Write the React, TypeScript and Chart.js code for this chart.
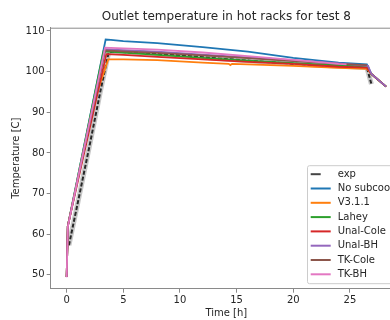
import React, { useEffect, useRef } from "react";
import { Chart, registerables } from "chart.js";

Chart.register(...registerables);

const chartTitle = "Outlet temperature in hot racks for test 8";
const xLabel = "Time [h]";
const yLabel = "Temperature [C]";

const seriesNames = ["exp", "No subcool", "V3.1.1", "Lahey", "Unal-Cole", "Unal-BH", "TK-Cole", "TK-BH"];
const seriesColors = ["#000000", "#1f77b4", "#ff7f0e", "#2ca02c", "#d62728", "#9467bd", "#8c564b", "#e377c2"];

const xTicks = [0, 5, 10, 15, 20, 25];
const yTicks = [50, 60, 70, 80, 90, 100, 110];

const expTime = [0.2, 1.0, 2.0, 3.0, 3.7, 4.0, 6, 10, 14, 18, 22, 26.5, 26.9];
const expTemp = [57.3, 68.0, 81.5, 95.5, 104.6, 104.9, 104.7, 104.0, 103.1, 102.3, 101.6, 101.0, 96.9];

const noSubTime = [0, 0.1, 3.44, 3.9, 5, 8, 12, 16, 20, 24, 26.5, 26.9, 28.2];
const noSubTemp = [49.5, 62, 107.9, 107.8, 107.5, 107.0, 106.0, 104.9, 103.4, 102.2, 101.8, 99.4, 96.3];

const v311Time = [0, 0.1, 2.4, 3.67, 5, 8, 12, 14.3, 14.45, 14.6, 16, 20, 24, 26.5, 26.9, 28.2];
const v311Temp = [49.5, 62, 92.5, 103.0, 103.0, 102.8, 102.2, 101.9, 101.6, 101.9, 101.8, 101.4, 100.9, 100.7, 99.4, 96.3];

const laheyTime = [0, 0.1, 3.25, 5, 8, 12, 16, 20, 24, 26.5, 26.9, 28.2];
const laheyTemp = [49.5, 62, 105.0, 104.7, 104.1, 103.4, 102.7, 102.1, 101.5, 101.3, 99.4, 96.3];

const unalColeTime = [0, 0.1, 3.5, 5, 8, 12, 16, 20, 24, 26.5, 26.9, 28.2];
const unalColeTemp = [49.5, 62, 104.3, 104.1, 103.6, 103.0, 102.4, 101.9, 101.2, 101.0, 99.4, 96.3];

const unalBhTime = [0, 0.1, 3.4, 5, 8, 12, 16, 20, 24, 26.6, 26.9, 28.2];
const unalBhTemp = [49.5, 62, 105.5, 105.3, 104.9, 104.2, 103.5, 102.8, 102.0, 101.4, 99.4, 96.3];

const tkColeTime = [0, 0.1, 3.4, 5, 8, 12, 16, 20, 24, 26.5];
const tkColeTemp = [49.5, 62, 105.2, 105.0, 104.6, 104.0, 103.3, 102.6, 101.9, 101.6];

const tkBhTime = [0, 0.1, 3.39, 5, 8, 12, 16, 20, 24, 24.7];
const tkBhTemp = [49.4, 61.8, 105.9, 105.7, 105.4, 104.7, 103.8, 102.9, 101.9, 101.8];

const seriesTimes = [expTime, noSubTime, v311Time, laheyTime, unalColeTime, unalBhTime, tkColeTime, tkBhTime];
const seriesTemps = [expTemp, noSubTemp, v311Temp, laheyTemp, unalColeTemp, unalBhTemp, tkColeTemp, tkBhTemp];

const FONT = "'DejaVu Sans', sans-serif";
const TEXT = "#262626";
const SPINE = "#8a8a8a";

const toPoints = (xs: number[], ys: number[]) => xs.map((x, i) => ({ x, y: ys[i] }));

const framePlugin = {
  id: "frame",
  afterDatasetsDraw(chart: any) {
    const { ctx, chartArea } = chart;
    ctx.save();
    ctx.strokeStyle = SPINE;
    ctx.lineWidth = 1;
    ctx.beginPath();
    ctx.moveTo(chartArea.left, chartArea.top + 0.5);
    ctx.lineTo(chartArea.right, chartArea.top + 0.5);
    ctx.lineTo(chartArea.right, chartArea.bottom);
    ctx.stroke();
    ctx.restore();
  },
};

const legendPlugin = {
  id: "insideLegend",
  afterDraw(chart: any) {
    const { ctx, chartArea } = chart;
    const w = 90;
    const h = 118;
    const x0 = chartArea.right - 5 - w;
    const y0 = chartArea.bottom - 5.5 - h;
    ctx.save();
    ctx.fillStyle = "rgba(255,255,255,0.85)";
    ctx.strokeStyle = "#cccccc";
    ctx.lineWidth = 1;
    ctx.beginPath();
    (ctx as any).roundRect(x0 + 0.5, y0 + 0.5, w, h, 2);
    ctx.fill();
    ctx.stroke();
    ctx.font = `10px ${FONT}`;
    ctx.textBaseline = "middle";
    ctx.textAlign = "left";
    seriesNames.forEach((name, i) => {
      const y = y0 + 9 + i * 14.3;
      ctx.strokeStyle = i === 0 ? "#444444" : seriesColors[i];
      ctx.lineWidth = 2;
      ctx.beginPath();
      ctx.moveTo(x0 + 3.7, y);
      ctx.lineTo(x0 + (i === 0 ? 13.7 : 23.7), y);
      ctx.stroke();
      ctx.fillStyle = TEXT;
      ctx.fillText(name, x0 + 30.7, y);
    });
    ctx.restore();
  },
};

export default function App() {
  const ref = useRef<HTMLCanvasElement | null>(null);

  useEffect(() => {
    document.body.style.margin = "0";
    document.body.style.overflow = "hidden";
    const canvas = ref.current;
    if (!canvas) return;

    const datasets: any[] = [];
    datasets.push({
      label: "exp-band",
      data: toPoints(expTime, expTemp),
      borderColor: "rgba(0,0,0,0.22)",
      borderWidth: 5,
      pointRadius: 0,
      tension: 0,
      order: 20,
    });
    seriesNames.forEach((name, i) => {
      datasets.push({
        label: name,
        data: toPoints(seriesTimes[i], seriesTemps[i]),
        borderColor: i === 0 ? "rgba(0,0,0,0.8)" : seriesColors[i],
        borderWidth: i === 0 ? 2 : 1.8,
        borderDash: i === 0 ? [4, 2] : [],
        pointRadius: 0,
        tension: 0,
        order: 15 - i,
      });
    });

    const chart = new Chart(canvas, {
      type: "line",
      data: { datasets },
      options: {
        animation: false,
        responsive: false,
        devicePixelRatio: 1,
        layout: { padding: { left: 0, right: 2, top: 0, bottom: 0 } },
        plugins: {
          legend: { display: false },
          tooltip: { enabled: false },
          title: {
            display: true,
            fullSize: false,
            text: chartTitle,
            color: TEXT,
            font: { family: FONT, size: 12, weight: "normal" as any },
            padding: { top: 10, bottom: 3.3 },
          },
        },
        scales: {
          x: {
            type: "linear",
            min: -1.41,
            max: 29.6,
            afterBuildTicks: (axis: any) => {
              axis.ticks = xTicks.map((v) => ({ value: v }));
            },
            afterFit: (scale: any) => {
              scale.height = 31.3;
            },
            ticks: {
              color: TEXT,
              font: { family: FONT, size: 10 },
              padding: 2,
              maxRotation: 0,
              autoSkip: false,
            },
            grid: { drawOnChartArea: false, drawTicks: true, tickLength: 4, color: SPINE },
            border: { color: SPINE, width: 1 },
            title: {
              display: true,
              text: xLabel,
              color: TEXT,
              font: { family: FONT, size: 10 },
              padding: { top: 0, bottom: 1 },
            },
          },
          y: {
            type: "linear",
            min: 46.6,
            max: 110.8,
            afterBuildTicks: (axis: any) => {
              axis.ticks = yTicks.map((v) => ({ value: v }));
            },
            afterFit: (scale: any) => {
              scale.width = 50.7;
            },
            ticks: {
              color: TEXT,
              font: { family: FONT, size: 10 },
              padding: 2,
              autoSkip: false,
            },
            grid: { drawOnChartArea: false, drawTicks: true, tickLength: 4, color: SPINE },
            border: { color: SPINE, width: 1 },
            title: {
              display: true,
              text: yLabel,
              color: TEXT,
              font: { family: FONT, size: 10 },
              padding: { top: 10, bottom: 0 },
            },
          },
        },
      },
      plugins: [framePlugin, legendPlugin],
    });

    return () => chart.destroy();
  }, []);

  return (
    <div style={{ position: "fixed", left: 0, top: 0, width: 404, height: 320 }}>
      <canvas ref={ref} width={404} height={320} style={{ width: 404, height: 320, display: "block" }} />
    </div>
  );
}
